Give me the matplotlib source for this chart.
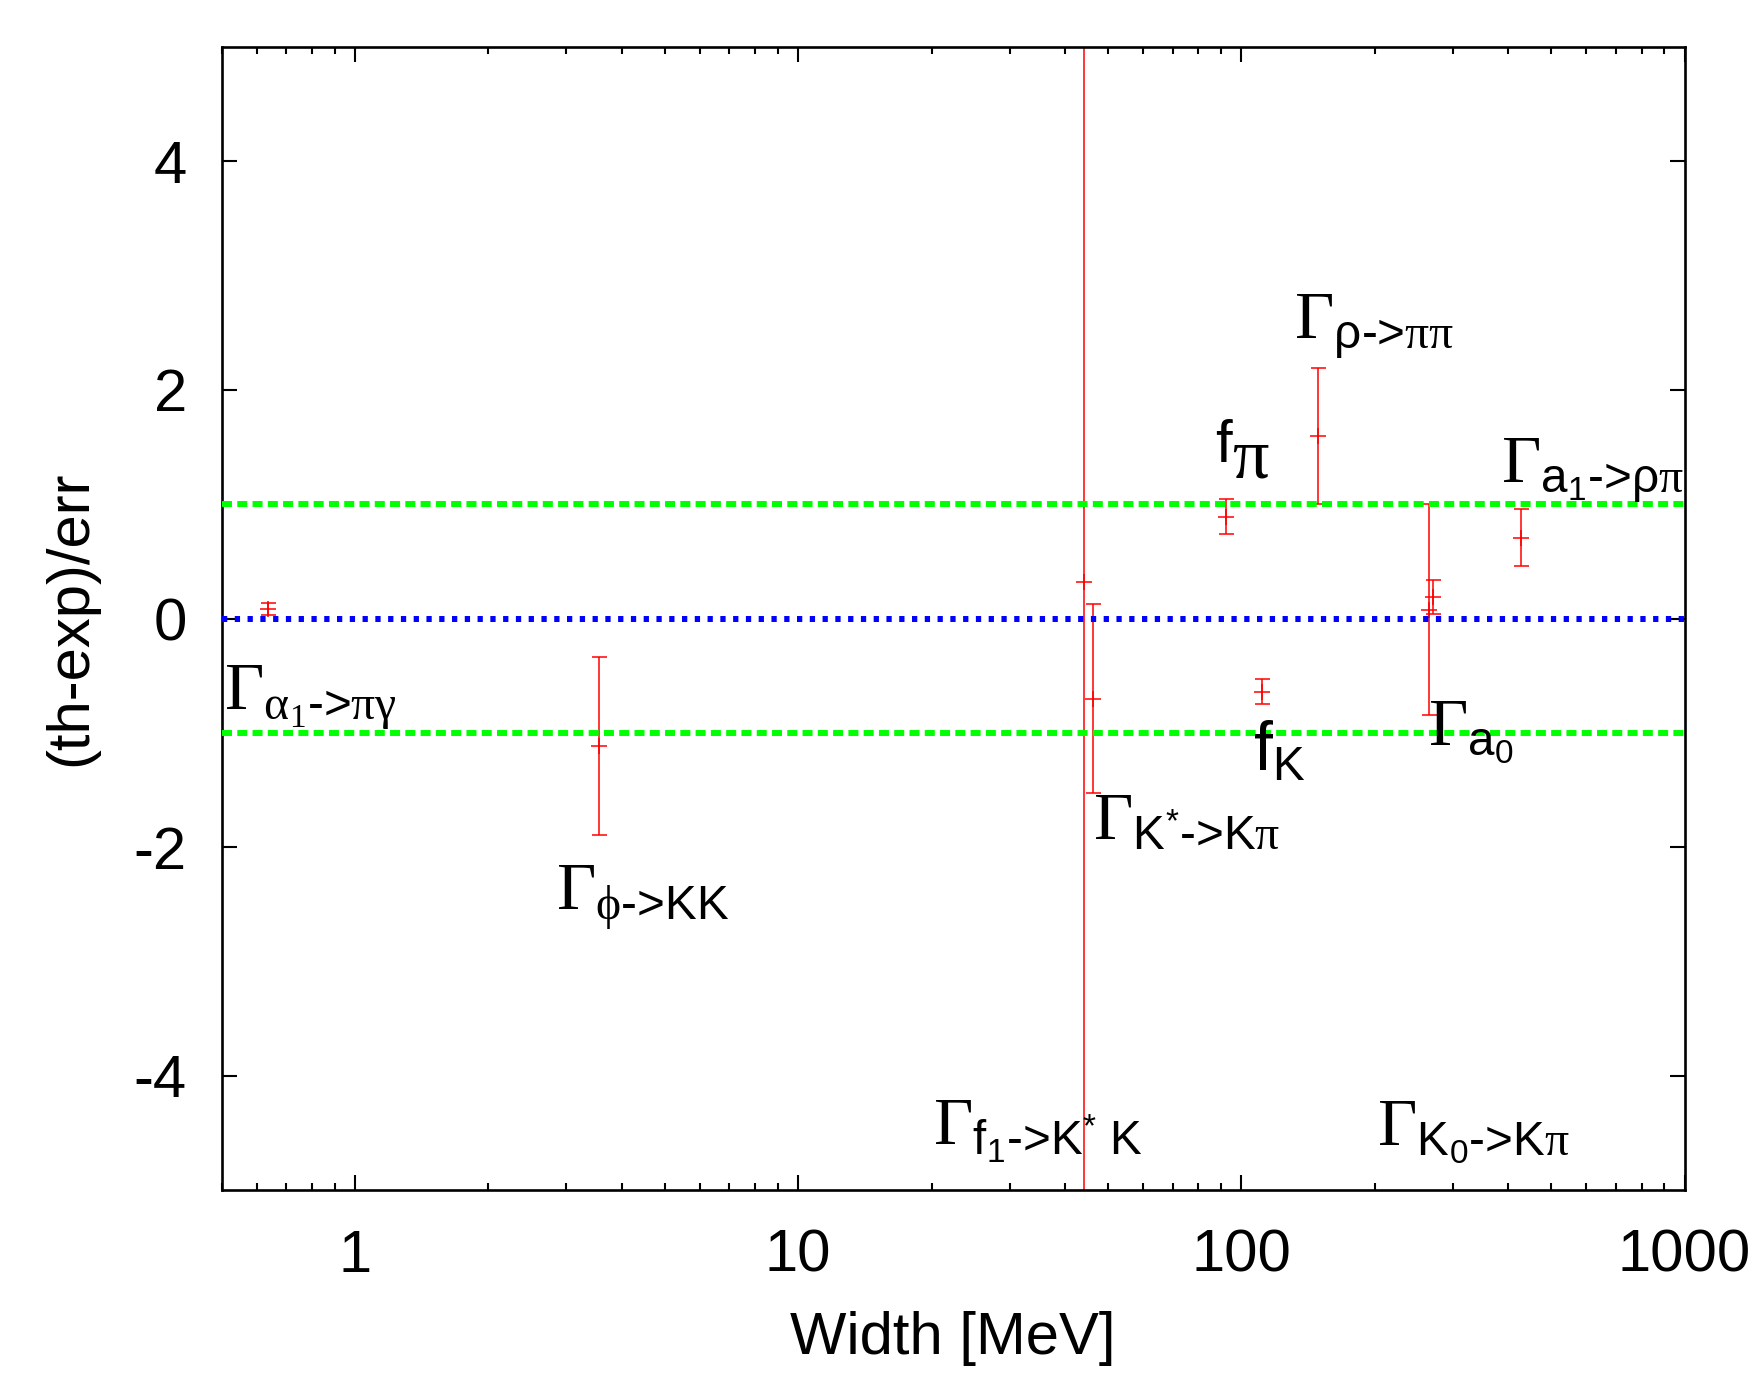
import matplotlib
matplotlib.use("Agg")
import matplotlib.pyplot as plt
import numpy as np

plt.rcParams['font.family'] = ['Liberation Sans', 'DejaVu Sans']
plt.rcParams['mathtext.fontset'] = 'custom'
plt.rcParams['mathtext.rm'] = 'Liberation Sans'
plt.rcParams['mathtext.sf'] = 'Liberation Serif'
plt.rcParams['mathtext.it'] = 'Liberation Sans:italic'
plt.rcParams['axes.unicode_minus'] = False
plt.rcParams['lines.scale_dashes'] = False

# widths [MeV], (th-exp)/err and its error
width = [0.637, 3.55, 44.06, 46.3, 92.5, 111.1, 149.2, 264.5, 271.0, 426.7]
pull = [0.082, -1.115, 0.317, -0.70, 0.891, -0.640, 1.597, 0.078, 0.188, 0.708]
pull_err = [0.051, 0.78, 20.0, 0.825, 0.152, 0.11, 0.594, 0.922, 0.148, 0.247]

# labels: text, x, y (baseline)
label_text = [
    r'$\mathsf{\Gamma}_{\mathsf{\alpha}_{\mathsf{1}}\text{->}\mathsf{\pi\gamma}}$',
    r'$\mathsf{\Gamma}_{\mathsf{\phi}\text{->KK}}$',
    r'$\mathsf{\Gamma}_{\mathrm{K}^{*}\text{->K}\mathsf{\pi}}$',
    r'$\mathsf{\Gamma}_{\mathrm{f}_{1}\text{->}\mathrm{K}^{*}\text{ K}}$',
    r'$\mathsf{\Gamma}_{\mathrm{K}_{0}\text{->K}\mathsf{\pi}}$',
    r'$\mathsf{\Gamma}_{\mathrm{a}_{0}}$',
    r'$\mathrm{f}_{\mathrm{K}}$',
    r'$\mathsf{\Gamma}_{\mathrm{\rho}\text{->}\mathsf{\pi\pi}}$',
    r'$\mathsf{\Gamma}_{\mathrm{a}_{1}\text{->}\mathrm{\rho}\mathsf{\pi}}$',
]
label_x = [0.506, 2.84, 46.3, 20.2, 202.5, 263.4, 106.1, 131.7, 386.0]
label_y = [-0.795, -2.544, -1.93, -4.606, -4.606, -1.10, -1.325, 2.45, 1.197]

fig = plt.figure(figsize=(17.54, 13.85), dpi=100)
ax = fig.add_axes([0.1263, 0.1408, 0.8341, 0.8252])

ax.errorbar(width, pull, yerr=pull_err, fmt='+', color='red', ecolor='red',
            elinewidth=1.1, capsize=5.4, capthick=1.1, markersize=11,
            markeredgewidth=1.1, zorder=2)

ax.axhline(1, color='#00ff00', lw=4.3, linestyle=(0, (7.2, 3.8)), zorder=3)
ax.axhline(-1, color='#00ff00', lw=4.3, linestyle=(0, (7.2, 3.8)), zorder=3)
ax.axhline(0, color='#0000ff', lw=4.3, linestyle=(0, (3.8, 5.4)), zorder=3)

for t, lx, ly in zip(label_text, label_x, label_y):
    ax.text(lx, ly, t, fontsize=49, ha='left', va='baseline', clip_on=True, zorder=4)

# f_pi: pi is drawn at full size in the original
ax.text(87.3, 1.372, 'f', fontsize=43, ha='left', va='baseline', zorder=4)
ax.annotate('π', xy=(87.3, 1.372), xytext=(12, -11), textcoords='offset points',
            fontsize=52, family='Liberation Serif', ha='left', va='baseline', zorder=4)

ax.set_xscale('log')
ax.set_xlim(0.5, 1000)
ax.set_ylim(-5, 5)
ax.set_xticks([1, 10, 100, 1000])
ax.set_xticklabels(['1', '10', '100', '1000'])
ax.set_yticks([-4, -2, 0, 2, 4])
ax.set_yticklabels(['-4', '-2', '0', '2', '4'])

ax.tick_params(which='both', direction='in', top=True, right=True, width=1.5)
ax.tick_params(which='major', length=11, labelsize=43)
ax.tick_params(axis='x', which='major', pad=28)
ax.tick_params(axis='y', which='major', pad=25)
ax.tick_params(which='minor', length=5)
for s in ax.spines.values():
    s.set_linewidth(1.9)

ax.set_xlabel('Width [MeV]', fontsize=43)
ax.set_ylabel('(th-exp)/err', fontsize=43)
ax.xaxis.set_label_coords(0.5, -0.106)
ax.yaxis.set_label_coords(-0.084, 0.5)

fig.savefig('out.png', dpi=100)
